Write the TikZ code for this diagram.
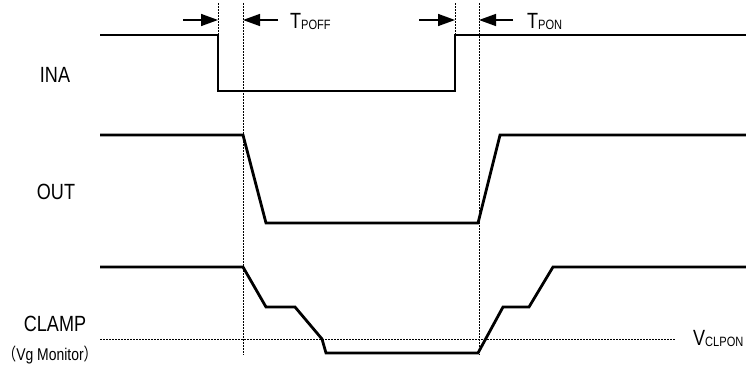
\documentclass[tikz,border=0pt]{standalone}
\usepackage{fontspec}
\setmainfont{Liberation Sans}[FakeStretch=0.82]
\newfontfamily\cjk{Noto Sans CJK JP}[FakeStretch=0.8]
\usetikzlibrary{arrows.meta}
\begin{document}
\begin{tikzpicture}[x=1pt,y=-1pt,
  signal/.style={line width=2.8pt,line join=miter},
  guide/.style={line width=1pt,dash pattern=on 1.5pt off 1.5pt},
  dimarrow/.style={line width=1.5pt,-{Triangle[length=17pt,width=12pt]}},
  lbl/.style={inner sep=0pt,font=\fontsize{22}{24}\selectfont},
  tlbl/.style={inner sep=0pt,anchor=base west,font=\fontsize{22}{24}\selectfont}]
\useasboundingbox (0,0) rectangle (746,364);
% guide lines
\draw[guide] (218,3) -- (218,35);
\draw[guide] (455,3) -- (455,35);
\draw[guide] (243,3) -- (243,355);
\draw[guide] (479,3) -- (479,355);
\draw[guide] (100,339) -- (676,339);
% INA
\draw[signal] (100,35) -- (218,35) -- (218,91) -- (455,91) -- (455,35) -- (746,35);
% OUT
\draw[signal] (100,135) -- (243,135) -- (266,223) -- (478,223) -- (500,135) -- (746,135);
% CLAMP
\draw[signal] (100,267) -- (243,267) -- (266,307) -- (295,307) -- (322,339) -- (326,353)
  -- (478,353) -- (503,307) -- (529,307) -- (553,267) -- (746,267);
% arrows
\coordinate (a1s) at (183,20); \coordinate (a1e) at (218,20);
\coordinate (a2s) at (278,20); \coordinate (a2e) at (243,20);
\coordinate (a3s) at (419,20); \coordinate (a3e) at (455,20);
\coordinate (a4s) at (513,20); \coordinate (a4e) at (479,20);
\draw[dimarrow] (a1s) -- (a1e);
\draw[dimarrow] (a2s) -- (a2e);
\draw[dimarrow] (a3s) -- (a3e);
\draw[dimarrow] (a4s) -- (a4e);
% labels
\node[tlbl] (tpoff) at (290,28) {T\raisebox{-1.5pt}{\fontsize{13.5}{14}\selectfont POFF}};
\node[tlbl] (tpon) at (527,28) {T\raisebox{-1.5pt}{\fontsize{13.5}{14}\selectfont PON}};
\node[tlbl] (vclpon) at (693,345) {V\raisebox{-1.5pt}{\fontsize{13.5}{14}\selectfont CLPON}};
\node[lbl] (ina) at (55,75) {INA};
\node[lbl] (out) at (56,192) {OUT};
\node[lbl] (clamp) at (55,324) {CLAMP};
\node[inner sep=0pt,font=\fontsize{17}{18}\selectfont] (vg) at (50,355) {{\cjk （}Vg Monitor{\cjk ）}};
\end{tikzpicture}
\end{document}
